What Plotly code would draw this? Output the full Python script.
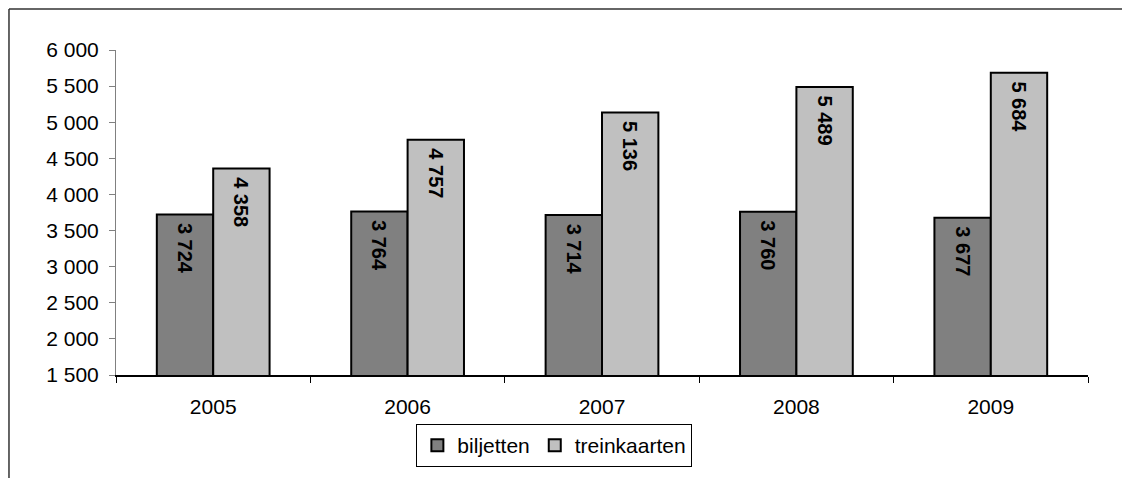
import plotly.graph_objects as go

years = ["2005", "2006", "2007", "2008", "2009"]
biljetten = [3724, 3764, 3714, 3760, 3677]
treinkaarten = [4358, 4757, 5136, 5489, 5684]
y_ticks = [1500, 2000, 2500, 3000, 3500, 4000, 4500, 5000, 5500, 6000]

FONT = "Liberation Sans, Arial, sans-serif"

fig = go.Figure()
for name, vals, col in [("biljetten", biljetten, "#808080"), ("treinkaarten", treinkaarten, "#C0C0C0")]:
    fig.add_trace(go.Bar(
        x=years, y=vals, name=name,
        marker=dict(color=col, line=dict(color="#000000", width=2)),
        texttemplate="&nbsp;<b>%{y:,d}</b>", textposition="inside", insidetextanchor="end",
        textangle=90, textfont=dict(family=FONT, size=20, color="#000000"),
        cliponaxis=False,
    ))

# page body has an 8px margin; plot area target: x 116-1088, y 50-375 on the page
fig.update_layout(
    width=1130, height=478,
    margin=dict(l=108, r=50, t=42, b=111),
    paper_bgcolor="white", plot_bgcolor="white",
    separators=", ",
    barmode="group", bargap=0.42, bargroupgap=0,
    font=dict(family=FONT, size=21, color="#000000"),
    showlegend=True,
    legend=dict(orientation="h", x=0.451, xanchor="center", y=-0.151, yanchor="top",
                bordercolor="#000000", borderwidth=1, bgcolor="white",
                font=dict(family=FONT, size=21), itemwidth=30, tracegroupgap=0),
    xaxis=dict(type="category", tickson="boundaries", ticks="outside", ticklen=6,
               tickcolor="#000000", showline=True, linecolor="#000000", linewidth=1.5,
               showgrid=False, tickfont=dict(size=21), ticklabelstandoff=12),
    yaxis=dict(range=[1500, 6000], tickvals=y_ticks, tickformat=",d", ticks="outside",
               ticklen=6, tickcolor="#808080", showline=True, linecolor="#808080",
               linewidth=1, showgrid=False, zeroline=False, tickfont=dict(size=21),
               ticklabelstandoff=6),
    shapes=[
        dict(type="line", xref="paper", yref="paper", x0=-0.1101, x1=1.2, y0=1.1262, y1=1.1262,
             line=dict(color="#333333", width=1.5)),
        dict(type="line", xref="paper", yref="paper", x0=-0.1101, x1=-0.1101, y0=1.1262, y1=-0.5,
             line=dict(color="#333333", width=1.5)),
    ],
)

fig.write_html("out.html")
